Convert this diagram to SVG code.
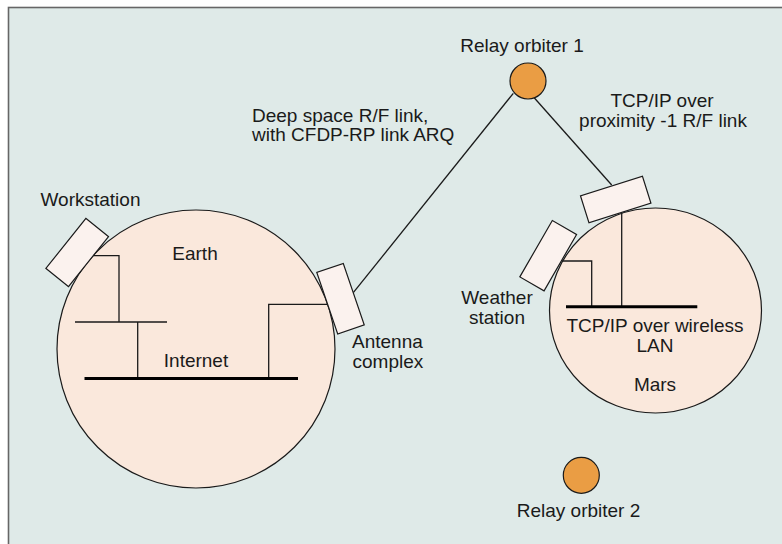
<svg xmlns="http://www.w3.org/2000/svg" width="782" height="544" viewBox="0 0 782 544">
<style>
text{font-family:"Liberation Sans",Arial,sans-serif;font-size:19px;fill:#1a1a1a}
.planet{fill:#fae8dc;stroke:#1a1a1a;stroke-width:1.2}
.dev{fill:#fbf2ee;stroke:#1a1a1a;stroke-width:1.2}
.orb{fill:#ea9d44;stroke:#1a1a1a;stroke-width:1.2}
.ln{fill:none;stroke:#1a1a1a;stroke-width:1.3}
.bus{fill:none;stroke:#000;stroke-width:3}
.mid{text-anchor:middle}
</style>
<rect x="0" y="0" width="782" height="544" fill="#ffffff"/>
<rect x="8.5" y="7.5" width="800" height="560" fill="#dfeae8" stroke="#666" stroke-width="1.6"/>
<g id="earth">
<circle class="planet" cx="196" cy="349" r="139"/>
<text class="mid" x="195" y="260">Earth</text>
<text class="mid" x="196" y="367">Internet</text>
</g>
<g id="mars">
<ellipse class="planet" cx="655.5" cy="310.5" rx="106" ry="102.5"/>
<text class="mid" x="655" y="332">TCP/IP over wireless</text>
<text class="mid" x="655" y="352">LAN</text>
<text class="mid" x="655" y="391">Mars</text>
</g>
<g id="connectors">
<polyline class="ln" points="93,255.7 119,255.7 119,322"/>
<line class="ln" x1="75" y1="322" x2="167" y2="322"/>
<line class="ln" x1="137.7" y1="322" x2="137.7" y2="378.5"/>
<polyline class="ln" points="268.7,378.5 268.7,304.3 327,304.3"/>
<line class="bus" x1="84.5" y1="378.5" x2="298" y2="378.5"/>
<polyline class="ln" points="561.7,261 591.7,261 591.7,306.7"/>
<line class="ln" x1="621.7" y1="213" x2="621.7" y2="306.7"/>
<line class="bus" x1="566" y1="306.7" x2="697.3" y2="306.7"/>
<line class="ln" x1="353.3" y1="292.7" x2="513.3" y2="93.3"/>
<line class="ln" x1="533.3" y1="96.7" x2="611.7" y2="185"/>
</g>
<g id="workstation">
<rect class="dev" x="-14.5" y="-32" width="29" height="64" transform="translate(77.2,252.5) rotate(38.7)"/>
<text x="40.5" y="205.7">Workstation</text>
</g>
<g id="antenna">
<rect class="dev" x="-14" y="-32.5" width="28" height="65" transform="translate(340.5,298.7) rotate(-18.8)"/>
<text x="352" y="348.3">Antenna</text>
<text x="352.5" y="367.8">complex</text>
</g>
<g id="mars-antenna">
<rect class="dev" x="-32.5" y="-14" width="65" height="28" transform="translate(615.7,199.5) rotate(-17.6)"/>
</g>
<g id="weather">
<rect class="dev" x="-14" y="-32.5" width="28" height="65" transform="translate(548.2,255.7) rotate(30)"/>
<text class="mid" x="497" y="304">Weather</text>
<text class="mid" x="497" y="324.3">station</text>
</g>
<g id="relay1">
<circle class="orb" cx="528" cy="81" r="18"/>
<text class="mid" x="522" y="52.3">Relay orbiter 1</text>
</g>
<g id="relay2">
<circle class="orb" cx="581.3" cy="475.3" r="18"/>
<text class="mid" x="578.5" y="516.7">Relay orbiter 2</text>
</g>
<g id="labels">
<text x="252" y="121.5">Deep space R/F link,</text>
<text x="252" y="141">with CFDP-RP link ARQ</text>
<text class="mid" x="662" y="107">TCP/IP over</text>
<text class="mid" x="663" y="126.5">proximity -1 R/F link</text>
</g>
</svg>
